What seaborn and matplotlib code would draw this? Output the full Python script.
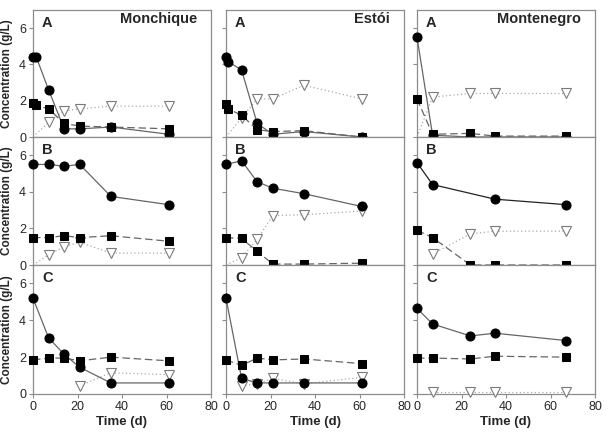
import numpy as np
import pandas as pd
import matplotlib
matplotlib.use("Agg")
import matplotlib.pyplot as plt
import seaborn as sns

sns.set_style("white")
plt.rcParams['font.family'] = ['Liberation Sans', 'DejaVu Sans']

nan = np.nan
sites = ["Monchique", "Estói", "Montenegro"]
rows = ["A", "B", "C"]

# sampling times (d)
mon_t_A = [0, 1.5, 7, 14, 21, 35, 61]
mon_t = [0, 7, 14, 21, 35, 61]
est_t_A = [0, 1, 7, 14, 21, 35, 61]
est_t = [0, 7, 14, 21, 35, 61]
mtn_t = [0, 7, 24, 35, 67]

# circles (solid line)
monA_c = [4.4, 4.4, 2.6, 0.45, 0.45, 0.55, 0.15]
monB_c = [5.5, 5.5, 5.4, 5.5, 3.75, 3.3]
monC_c = [5.2, 3.05, 2.15, 1.45, 0.6, 0.6]
estA_c = [4.4, 4.15, 3.7, 0.75, 0.15, 0.3, 0.0]
estB_c = [5.5, 5.7, 4.55, 4.2, 3.9, 3.2]
estC_c = [5.2, 0.85, 0.6, 0.6, 0.6, 0.6]
mtnA_c = [5.5, 0.1, 0.0, 0.0, 0.0]
mtnB_c = [5.6, 4.4, nan, 3.6, 3.3]
mtnC_c = [4.65, 3.8, 3.15, 3.3, 2.9]

# squares (dashed line)
monA_s = [1.85, 1.75, 1.55, 0.75, 0.6, 0.55, 0.45]
monB_s = [1.5, 1.5, 1.6, 1.5, 1.6, 1.3]
monC_s = [1.85, 1.95, 1.95, 1.8, 2.0, 1.8]
estA_s = [1.8, 1.55, 1.2, 0.4, 0.3, 0.35, 0.0]
estB_s = [1.5, 1.45, 0.75, 0.05, 0.05, 0.1]
estC_s = [1.85, 1.55, 1.95, 1.85, 1.9, 1.65]
mtnA_s = [2.1, 0.15, 0.2, 0.05, 0.05]
mtnB_s = [1.9, 1.5, 0.0, 0.0, 0.0]
mtnC_s = [1.95, 1.95, 1.9, 2.05, 2.0]

# open triangles (dotted line); value 0 at t=0 = line start only
monA_v = [0.0, nan, 0.8, 1.45, 1.55, 1.7, 1.7]
monB_v = [0.0, 0.55, 1.0, 1.25, 0.65, 0.65]
monC_v = [nan, nan, nan, 0.45, 1.15, 1.05]
estA_v = [0.0, nan, 1.05, 2.1, 2.1, 2.85, 2.1]
estB_v = [0.0, 0.4, 1.4, 2.7, 2.75, 2.95]
estC_v = [nan, 0.45, 0.55, 0.85, 0.55, 0.9]
mtnA_v = [0.0, 2.2, 2.4, 2.4, 2.4]
mtnB_v = [nan, 0.6, 1.7, 1.85, 1.85]
mtnC_v = [nan, 0.1, 0.1, 0.1, 0.1]

panels = [
    [(mon_t_A, monA_c, monA_s, monA_v), (est_t_A, estA_c, estA_s, estA_v), (mtn_t, mtnA_c, mtnA_s, mtnA_v)],
    [(mon_t, monB_c, monB_s, monB_v), (est_t, estB_c, estB_s, estB_v), (mtn_t, mtnB_c, mtnB_s, mtnB_v)],
    [(mon_t, monC_c, monC_s, monC_v), (est_t, estC_c, estC_s, estC_v), (mtn_t, mtnC_c, mtnC_s, mtnC_v)],
]

fig = plt.figure(figsize=(6.15, 4.32), dpi=100)
lefts = [33 / 615, 226 / 615, 417 / 615]
bottoms = [1 - 137 / 432, 1 - 265 / 432, 1 - 394 / 432]
heights = [127 / 432, 128 / 432, 129 / 432]
w = 178 / 615

spine_c = "#8c8c8c"
for r in range(3):
    for c in range(3):
        ax = fig.add_axes([lefts[c], bottoms[r], w, heights[r]])
        t, circ, sq, tri = panels[r][c]
        df = pd.DataFrame({"t": t, "c": circ, "s": sq, "v": tri})

        d = df.dropna(subset=["v"])
        sns.lineplot(data=d, x="t", y="v", ax=ax, color="#aaaaaa", lw=0.9,
                     linestyle=(0, (1, 2)), estimator=None, sort=False)
        dm = d[d["t"] > 0]
        ax.plot(dm["t"], dm["v"], "v", ms=7, mfc="white", mec="#7a7a7a",
                mew=0.8, clip_on=False, zorder=3)

        d = df.dropna(subset=["c"])
        lc = "#222222" if (r == 1 and c == 2) else "#666666"
        sns.lineplot(data=d, x="t", y="c", ax=ax, color=lc, lw=0.9,
                     marker="o", ms=6.5, mfc="black", mec="black",
                     estimator=None, sort=False, clip_on=False, zorder=4)

        d = df.dropna(subset=["s"])
        sns.lineplot(data=d, x="t", y="s", ax=ax, color="#666666", lw=0.9,
                     linestyle=(0, (6, 3)), marker="s", ms=6, mfc="black",
                     mec="black", estimator=None, sort=False, clip_on=False,
                     zorder=5)

        ax.set_xlim(0, 80)
        ax.set_ylim(0, 7)
        ax.set_xticks([0, 20, 40, 60, 80])
        ax.set_yticks([0, 2, 4, 6])
        for sp in ax.spines.values():
            sp.set_visible(True)
            sp.set_color(spine_c)
            sp.set_linewidth(0.9)
        ax.tick_params(axis="both", which="both", direction="out", length=3,
                       width=0.8, color=spine_c, labelsize=9, pad=2,
                       bottom=True, left=True)
        if c != 0:
            ax.set_yticklabels([])
        if r != 2:
            ax.set_xticklabels([])
        ax.set_xlabel("Time (d)" if r == 2 else "", fontsize=9.5,
                      fontweight="bold", labelpad=2)
        if c == 0:
            ax.set_ylabel("Concentration (g/L)", fontsize=8.5,
                          fontweight="bold", labelpad=4)
        else:
            ax.set_ylabel("")
        ax.text(0.05, 0.9, rows[r], transform=ax.transAxes, fontsize=10.5,
                fontweight="bold", va="center", ha="left")
        if r == 0:
            ax.text(0.92, 0.93, sites[c], transform=ax.transAxes,
                    fontsize=10.5, fontweight="bold", va="center", ha="right")

fig.savefig("out.png", dpi=100)
